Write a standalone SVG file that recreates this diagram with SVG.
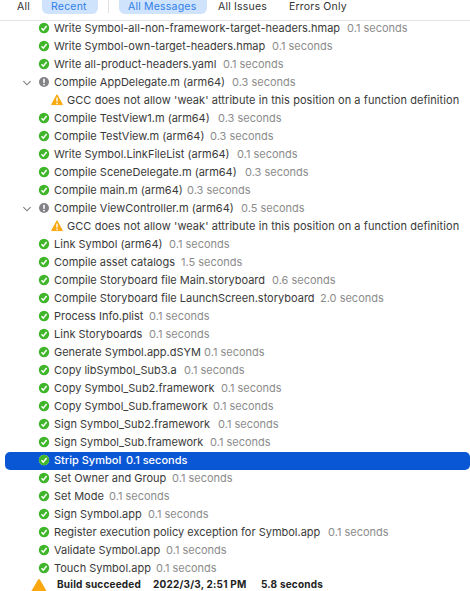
<svg xmlns="http://www.w3.org/2000/svg" xmlns:xlink="http://www.w3.org/1999/xlink" width="470" height="591" viewBox="0 0 470 591">
<style>
text{font-family:Inter,"Liberation Sans",sans-serif;font-size:11px;fill:#3a3a3a}
.t{fill:#8c8c8c}
.tab{font-size:10.5px;letter-spacing:.2px;fill:#333}
.on{fill:#2f7fe6}
.s{fill:#fff;font-weight:500}
.b{font-weight:700;font-size:10px;letter-spacing:.2px;fill:#222}
.g{letter-spacing:.065px}
</style>
<defs>
<g id="ok"><circle r="5.2" fill="#3fb52a"/><path d="M-2.5 0.2L-0.7 2.2L2.6-2" fill="none" stroke="#fff" stroke-width="1.5"/></g>
<g id="warn"><path d="M0-5.2L5.4 4.6H-5.4Z" fill="#f9a80f" stroke="#f9a80f" stroke-width="1" stroke-linejoin="round"/><rect x="-0.7" y="-2.4" width="1.4" height="4" fill="#fff"/><circle cy="3.4" r="0.8" fill="#fff"/></g>
<g id="note"><circle r="5" fill="#838387"/><rect x="-0.8" y="-3.2" width="1.6" height="4" fill="#fff"/><circle cy="2.6" r="0.9" fill="#fff"/></g>
<path id="chev" d="M-3.6-1.8L0 1.8L3.6-1.8" fill="none" stroke="#7a7a7a" stroke-width="1.1"/>
</defs>
<rect width="470" height="591" fill="#fff"/>
<g id="toolbar">
<rect x="42" y="-6" width="56" height="20" rx="6" fill="#cfe3fd"/>
<rect x="119" y="-6" width="88" height="20" rx="6" fill="#cfe3fd"/>
<rect x="108" y="0" width="1" height="13" fill="#e0e0e0"/>
<rect x="0" y="20" width="470" height="1" fill="#e4e4e4"/>
<text class="tab" x="17" y="10.2">All</text>
<text class="tab on" x="51" y="10.2">Recent</text>
<text class="tab on" x="128" y="10.2">All Messages</text>
<text class="tab" x="218" y="10.2">All Issues</text>
<text class="tab" x="289" y="10.2">Errors Only</text>
</g>
<g id="rows">
<g id="r1"><use href="#ok" x="44" y="28"/><text x="54" y="32">Write Symbol-all-non-framework-target-headers.hmap</text><text class="t" x="347" y="32">0.1 seconds</text></g>
<g id="r2"><use href="#ok" x="44" y="46"/><text x="54" y="50">Write Symbol-own-target-headers.hmap</text><text class="t" x="272" y="50">0.1 seconds</text></g>
<g id="r3"><use href="#ok" x="44" y="64"/><text x="54" y="68">Write all-product-headers.yaml</text><text class="t" x="223" y="68">0.1 seconds</text></g>
<g id="r4"><use href="#chev" x="27" y="83"/><use href="#note" x="44" y="82"/><text x="54" y="86">Compile AppDelegate.m (arm64)</text><text class="t" x="232" y="86">0.3 seconds</text></g>
<g id="r5"><use href="#warn" x="57" y="100"/><text class="g" x="67" y="104">GCC does not allow 'weak' attribute in this position on a function definition</text></g>
<g id="r6"><use href="#ok" x="44" y="118"/><text x="54" y="122">Compile TestView1.m (arm64)</text><text class="t" x="218" y="122">0.3 seconds</text></g>
<g id="r7"><use href="#ok" x="44" y="136"/><text x="54" y="140">Compile TestView.m (arm64)</text><text class="t" x="210" y="140">0.3 seconds</text></g>
<g id="r8"><use href="#ok" x="44" y="154"/><text x="54" y="158">Write Symbol.LinkFileList (arm64)</text><text class="t" x="237" y="158">0.1 seconds</text></g>
<g id="r9"><use href="#ok" x="44" y="172"/><text x="54" y="176">Compile SceneDelegate.m (arm64)</text><text class="t" x="245" y="176">0.3 seconds</text></g>
<g id="r10"><use href="#ok" x="44" y="190"/><text x="54" y="194">Compile main.m (arm64)</text><text class="t" x="187" y="194">0.3 seconds</text></g>
<g id="r11"><use href="#chev" x="27" y="209"/><use href="#note" x="44" y="208"/><text x="54" y="212">Compile ViewController.m (arm64)</text><text class="t" x="241" y="212">0.5 seconds</text></g>
<g id="r12"><use href="#warn" x="57" y="226"/><text class="g" x="67" y="230">GCC does not allow 'weak' attribute in this position on a function definition</text></g>
<g id="r13"><use href="#ok" x="44" y="244"/><text x="54" y="248">Link Symbol (arm64)</text><text class="t" x="169" y="248">0.1 seconds</text></g>
<g id="r14"><use href="#ok" x="44" y="262"/><text x="54" y="266">Compile asset catalogs</text><text class="t" x="181" y="266">1.5 seconds</text></g>
<g id="r15"><use href="#ok" x="44" y="280"/><text x="54" y="284">Compile Storyboard file Main.storyboard</text><text class="t" x="272" y="284">0.6 seconds</text></g>
<g id="r16"><use href="#ok" x="44" y="298"/><text x="54" y="302">Compile Storyboard file LaunchScreen.storyboard</text><text class="t" x="320" y="302">2.0 seconds</text></g>
<g id="r17"><use href="#ok" x="44" y="316"/><text x="54" y="320">Process Info.plist</text><text class="t" x="149" y="320">0.1 seconds</text></g>
<g id="r18"><use href="#ok" x="44" y="334"/><text x="54" y="338">Link Storyboards</text><text class="t" x="149" y="338">0.1 seconds</text></g>
<g id="r19"><use href="#ok" x="44" y="352"/><text x="54" y="356">Generate Symbol.app.dSYM</text><text class="t" x="204" y="356">0.1 seconds</text></g>
<g id="r20"><use href="#ok" x="44" y="370"/><text x="54" y="374">Copy libSymbol_Sub3.a</text><text class="t" x="184" y="374">0.1 seconds</text></g>
<g id="r21"><use href="#ok" x="44" y="388"/><text x="54" y="392">Copy Symbol_Sub2.framework</text><text class="t" x="221" y="392">0.1 seconds</text></g>
<g id="r22"><use href="#ok" x="44" y="406"/><text x="54" y="410">Copy Symbol_Sub.framework</text><text class="t" x="213" y="410">0.1 seconds</text></g>
<g id="r23"><use href="#ok" x="44" y="424"/><text x="54" y="428">Sign Symbol_Sub2.framework</text><text class="t" x="218" y="428">0.1 seconds</text></g>
<g id="r24"><use href="#ok" x="44" y="442"/><text x="54" y="446">Sign Symbol_Sub.framework</text><text class="t" x="210" y="446">0.1 seconds</text></g>
<g id="r25"><rect x="5" y="452" width="465" height="18" rx="5" fill="#0a57d6"/><circle cx="44" cy="460" r="5.2" fill="#fff"/><use href="#ok" x="44" y="460"/><text class="s" x="54" y="464">Strip Symbol</text><text class="s" x="126" y="464">0.1 seconds</text></g>
<g id="r26"><use href="#ok" x="44" y="478"/><text x="54" y="482">Set Owner and Group</text><text class="t" x="172" y="482">0.1 seconds</text></g>
<g id="r27"><use href="#ok" x="44" y="496"/><text x="54" y="500">Set Mode</text><text class="t" x="109" y="500">0.1 seconds</text></g>
<g id="r28"><use href="#ok" x="44" y="514"/><text x="54" y="518">Sign Symbol.app</text><text class="t" x="148" y="518">0.1 seconds</text></g>
<g id="r29"><use href="#ok" x="44" y="532"/><text x="54" y="536">Register execution policy exception for Symbol.app</text><text class="t" x="328" y="536">0.1 seconds</text></g>
<g id="r30"><use href="#ok" x="44" y="550"/><text x="54" y="554">Validate Symbol.app</text><text class="t" x="166" y="554">0.1 seconds</text></g>
<g id="r31"><use href="#ok" x="44" y="568"/><text x="54" y="572">Touch Symbol.app</text><text class="t" x="156" y="572">0.1 seconds</text></g>
<g id="summary"><path d="M39 580L46 592H32Z" fill="#f9a80f" stroke="#f9a80f" stroke-width="2" stroke-linejoin="round"/><text class="b" x="57" y="588">Build succeeded</text><text class="b" x="153" y="588">2022/3/3, 2:51 PM</text><text class="b" x="261" y="588">5.8 seconds</text></g>
</g>
</svg>
